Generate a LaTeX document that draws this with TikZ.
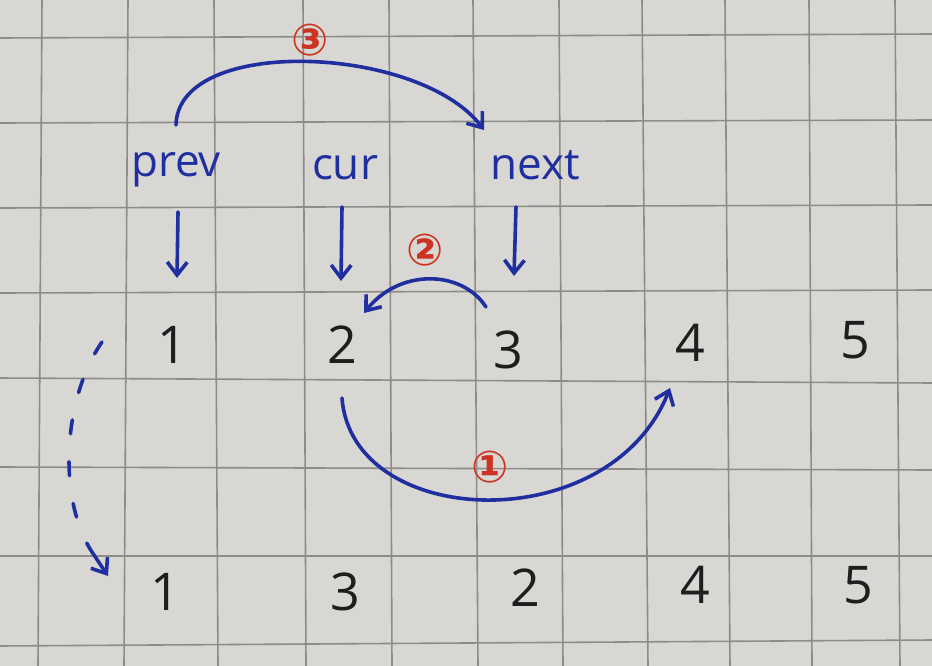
\documentclass[tikz,border=0pt]{standalone}
\usepackage{fontspec}
\setmainfont{Open Sans}
\newfontfamily\circfont{DejaVu Sans}
\usetikzlibrary{arrows.meta}
\definecolor{paper}{HTML}{D9D7D3}
\definecolor{gridc}{HTML}{8E8C89}
\definecolor{ink}{HTML}{1F2FA0}
\definecolor{redink}{HTML}{CC3322}
\definecolor{pencil}{HTML}{1E1E1E}
\tikzset{
  numtxt/.style={text=pencil, font=\fontsize{52}{52}\selectfont, inner sep=0pt},
  ptrtxt/.style={text=ink, font=\fontsize{44}{44}\selectfont, inner sep=0pt},
  steplabel/.style={text=redink, font=\circfont\bfseries\fontsize{44}{44}\selectfont, inner sep=0pt},
  inkline/.style={draw=ink, line width=3.6pt, line cap=round},
  tipv/.style={-{Straight Barb[length=13pt,width=20pt,line width=3.6pt]}},
  gridline/.style={draw=gridc, line width=1.6pt}
}
\begin{document}
\begin{tikzpicture}[x=1pt,y=-1pt]
\useasboundingbox (0,0) rectangle (932,666);
\fill[paper] (0,0) rectangle (932,666);
% grid
\foreach \x/\xb in {42/38,128/124,214/218,303/306,389/392,473/478,559/563,642/648,725/730,809/812,895/900}
  \draw[gridline] (\x,0) -- (\xb,666);
\foreach \y/\yb in {38/34,123/120,208/205,293/290,378/383,467/470,556/556,646/640}
  \draw[gridline] (0,\y) -- (932,\yb);
% pointer labels
\node[ptrtxt] (prev) at (176,170) {prev};
\node[ptrtxt] (cur) at (345,168) {cur};
\node[ptrtxt] (next) at (535,165) {next};
% first row
\node[numtxt] (a1) at (172,345) {1};
\node[numtxt] (a2) at (342,345) {2};
\node[numtxt] (a3) at (508,350) {3};
\node[numtxt] (a4) at (690,343) {4};
\node[numtxt] (a5) at (855,340) {5};
% second row
\node[numtxt] (b1) at (165,592) {1};
\node[numtxt] (b2) at (345,592) {3};
\node[numtxt] (b3) at (525,588) {2};
\node[numtxt] (b4) at (695,585) {4};
\node[numtxt] (b5) at (858,585) {5};
% step labels
\node[steplabel] (l3) at (310,40) {③};
\node[steplabel] (l2) at (425,250) {②};
\node[steplabel] (l1) at (490,467) {①};
% down arrows (pointer -> node)
\coordinate (pa) at (178,212);
\coordinate (pb) at (177,278);
\coordinate (ca) at (342,207);
\coordinate (cb) at (341,281);
\coordinate (na) at (516,207);
\coordinate (nb) at (514,276);
\draw[inkline,tipv] (pa) -- (pb);
\draw[inkline,tipv] (ca) -- (cb);
\draw[inkline,tipv] (na) -- (nb);
% arc 3: prev -> next
\coordinate (s3) at (176,125);
\coordinate (e3) at (484,130);
\draw[inkline,tipv] (s3) .. controls (178,35) and (420,45) .. (e3);
% arc 2: 3 -> 2
\coordinate (s2) at (486,307);
\coordinate (e2) at (364,313);
\draw[inkline,tipv] (s2) .. controls (462,270) and (400,268) .. (e2);
% arc 1: 2 -> 4
\coordinate (s1) at (342,398);
\coordinate (e1) at (670,388);
\draw[inkline,tipv] (s1) .. controls (352,530) and (610,540) .. (e1);
% dashed arrow: row 1 -> row 2
\coordinate (sd) at (102,342);
\coordinate (md) at (92,552);
\coordinate (ed) at (108,576);
\draw[inkline,dash pattern=on 14pt off 28pt] (sd) .. controls (62,400) and (58,500) .. (md);
\draw[inkline,tipv] (md) -- (ed);
\end{tikzpicture}
\end{document}
